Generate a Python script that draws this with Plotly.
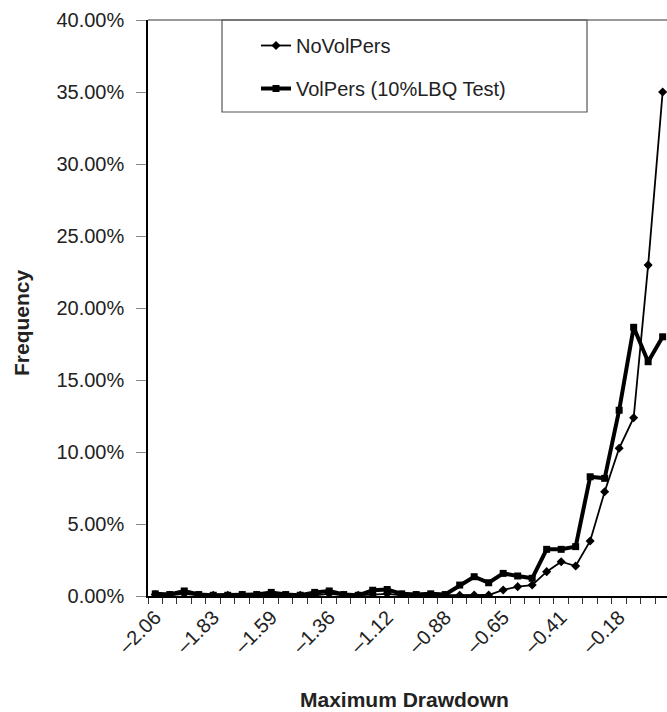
import plotly.graph_objects as go

# Category values of Maximum Drawdown (x axis)
categories = [-2.06, -2.00, -1.94, -1.88, -1.83, -1.77, -1.71, -1.65, -1.59, -1.53,
              -1.47, -1.41, -1.36, -1.30, -1.24, -1.18, -1.12, -1.06, -1.00, -0.94,
              -0.88, -0.82, -0.77, -0.71, -0.65, -0.59, -0.53, -0.47, -0.41, -0.35,
              -0.29, -0.24, -0.18, -0.12, -0.06, -0.00]

# Frequencies in percent
novolpers = [0.10, 0.05, 0.15, 0.05, 0.05, 0.05, 0.05, 0.05, 0.10, 0.05,
             0.05, 0.05, 0.15, 0.05, 0.05, 0.10, 0.15, 0.05, 0.05, 0.05,
             0.05, 0.05, 0.07, 0.07, 0.42, 0.65, 0.76, 1.69, 2.38, 2.08,
             3.82, 7.24, 10.26, 12.38, 22.98, 35.00]
volpers = [0.15, 0.10, 0.35, 0.10, 0.05, 0.05, 0.10, 0.10, 0.25, 0.10,
           0.05, 0.25, 0.35, 0.10, 0.05, 0.40, 0.45, 0.15, 0.10, 0.15,
           0.10, 0.76, 1.34, 0.92, 1.57, 1.39, 1.23, 3.24, 3.24, 3.43,
           8.28, 8.17, 12.90, 18.66, 16.27, 18.00]

# Tick labels (every 4th category)
tick_idx = [0, 4, 8, 12, 16, 20, 24, 28, 32]
tick_text = ["–2.06", "–1.83", "–1.59", "–1.36", "–1.12", "–0.88", "–0.65", "–0.41", "–0.18"]
ytick_vals = [0, 5, 10, 15, 20, 25, 30, 35, 40]
ytick_text = ["%.2f%%" % v for v in ytick_vals]

W, H = 667, 712
L, R, T, B = 148, 0, 20, 116
PW, PH = W - L - R, H - T - B

def px(x):
    return (x - L) / PW

def py(y):
    return (H - B - y) / PH

xs = list(range(len(categories)))
FONT = "Liberation Sans, Arial, sans-serif"
TXT = "#222222"

fig = go.Figure()
fig.add_trace(go.Scatter(
    x=xs, y=novolpers, name="NoVolPers", mode="lines+markers",
    line=dict(color="black", width=1.8),
    marker=dict(symbol="diamond", size=7, color="black"),
    customdata=categories, legendgroup="a",
))
fig.add_trace(go.Scatter(
    x=xs, y=volpers, name="VolPers (10%LBQ Test)", mode="lines+markers",
    line=dict(color="black", width=4),
    marker=dict(symbol="square", size=7, color="black"),
    customdata=categories, legendgroup="b",
))

fig.update_layout(
    width=W, height=H,
    margin=dict(l=L, r=R, t=T, b=B),
    paper_bgcolor="white", plot_bgcolor="white",
    font=dict(family=FONT, size=20, color=TXT),
    showlegend=True,
    legend=dict(
        x=px(256), y=py(26), xanchor="left", yanchor="top",
        bgcolor="rgba(0,0,0,0)", borderwidth=0,
        font=dict(size=20, color=TXT),
        tracegroupgap=14,
    ),
    xaxis=dict(
        range=[-0.5, 35.3], tickmode="array", tickvals=tick_idx, ticktext=tick_text,
        tickangle=-45, showgrid=False, zeroline=False,
        showline=True, linecolor="black", linewidth=1.5,
        ticks="", tickfont=dict(size=20, color=TXT),
        minor=dict(ticks="outside", tickmode="linear", tick0=-0.5, dtick=1,
                   ticklen=6, tickcolor="#333", tickwidth=1, showgrid=False),
    ),
    yaxis=dict(
        range=[0, 40], tickmode="array", tickvals=ytick_vals, ticktext=ytick_text,
        showgrid=False, zeroline=False,
        showline=True, linecolor="black", linewidth=1.5,
        ticks="outside", ticklen=10, tickcolor="#888", tickwidth=1,
        ticklabelstandoff=8, tickfont=dict(size=20, color=TXT),
    ),
    shapes=[
        dict(type="line", xref="paper", yref="paper", x0=0, x1=1, y0=1, y1=1,
             line=dict(color="#777", width=1.5)),
        dict(type="rect", xref="paper", yref="paper", x0=px(222), x1=px(587),
             y0=py(112), y1=py(20), line=dict(color="#555", width=1.2),
             fillcolor="rgba(0,0,0,0)"),
    ],
    annotations=[
        dict(text="<b>Frequency</b>", xref="paper", yref="paper", x=px(21), y=py(323),
             textangle=-90, showarrow=False, font=dict(size=21, color=TXT),
             xanchor="center", yanchor="middle"),
        dict(text="<b>Maximum Drawdown</b>", xref="paper", yref="paper", x=px(404), y=py(699),
             showarrow=False, font=dict(size=21, color=TXT),
             xanchor="center", yanchor="middle"),
    ],
)

fig.write_html("out.html", config={"displayModeBar": False})

# remove the browser's default page margin so the figure fills the window exactly
with open("out.html", "r", encoding="utf-8") as f:
    html = f.read()
html = html.replace("<body>", '<body style="margin:0;padding:0;overflow:hidden">', 1)
with open("out.html", "w", encoding="utf-8") as f:
    f.write(html)
